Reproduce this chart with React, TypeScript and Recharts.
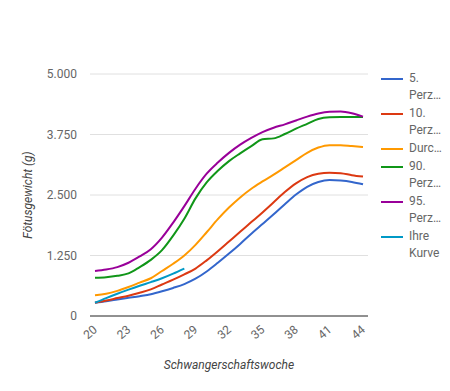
import { CartesianGrid, Label, Line, LineChart, XAxis, YAxis } from 'recharts'

const weeks = [20, 21, 22, 23, 24, 25, 26, 27, 28, 29, 30, 31, 32, 33, 34, 35, 36, 37, 38, 39, 40, 41, 42, 43, 44]
const p5 = [275, 305, 340, 375, 410, 450, 510, 580, 660, 770, 920, 1100, 1290, 1490, 1700, 1900, 2100, 2310, 2510, 2670, 2770, 2810, 2800, 2770, 2720]
const p10 = [275, 320, 370, 420, 480, 550, 650, 750, 860, 980, 1150, 1340, 1540, 1740, 1940, 2140, 2350, 2560, 2740, 2870, 2940, 2960, 2950, 2910, 2880]
const mean = [430, 460, 520, 600, 690, 780, 930, 1080, 1250, 1470, 1730, 2000, 2240, 2450, 2630, 2780, 2920, 3070, 3220, 3370, 3480, 3530, 3530, 3510, 3490]
const p90 = [790, 800, 830, 880, 1010, 1160, 1360, 1660, 2010, 2430, 2760, 3000, 3200, 3360, 3510, 3650, 3670, 3760, 3870, 3970, 4070, 4105, 4110, 4110, 4110]
const p95 = [930, 960, 1010, 1100, 1230, 1380, 1620, 1930, 2270, 2630, 2940, 3170, 3370, 3540, 3680, 3800, 3890, 3960, 4040, 4120, 4185, 4220, 4225, 4190, 4120]
const ihreKurve = [275, 370, 460, 545, 625, 700, 780, 875, 980]

const xTicks = [20, 23, 26, 29, 32, 35, 38, 41, 44]
const yTicks = [0, 1250, 2500, 3750, 5000]

const series = [
  { key: 'p5', name: '5. Perzentile', legend: ['5.', 'Perz…'], color: '#3366cc' },
  { key: 'p10', name: '10. Perzentile', legend: ['10.', 'Perz…'], color: '#dc3912' },
  { key: 'mean', name: 'Durchschnitt', legend: ['Durc…'], color: '#ff9900' },
  { key: 'p90', name: '90. Perzentile', legend: ['90.', 'Perz…'], color: '#109618' },
  { key: 'p95', name: '95. Perzentile', legend: ['95.', 'Perz…'], color: '#990099' },
  { key: 'ihre', name: 'Ihre Kurve', legend: ['Ihre', 'Kurve'], color: '#0099c6' },
]

const data = weeks.map((week, i) => ({
  week,
  p5: p5[i],
  p10: p10[i],
  mean: mean[i],
  p90: p90[i],
  p95: p95[i],
  ihre: i < ihreKurve.length ? ihreKurve[i] : null,
}))

const FONT = 'Roboto, sans-serif'

const formatDe = (v: number) => String(v).replace(/\B(?=(\d{3})+(?!\d))/g, '.')

function XTick({ x, y, payload }: any) {
  const ax = x + 3
  const ay = y + 15
  return (
    <text x={ax} y={ay} transform={`rotate(-40 ${ax} ${ay})`} textAnchor='end' fill='#666' fontSize={12} fontFamily={FONT}>
      {payload.value}
    </text>
  )
}

function Legend() {
  return (
    <div style={{ position: 'absolute', left: 381, top: 70, fontFamily: FONT, fontSize: 12, color: '#666' }}>
      {series.map((s) => (
        <div key={s.key} style={{ display: 'flex', alignItems: 'flex-start', marginBottom: 1 }}>
          <div style={{ width: 22, height: 2, background: s.color, marginTop: 8, marginRight: 6 }} />
          <div style={{ lineHeight: '17px' }}>
            {s.legend.map((line) => (
              <div key={line}>{line}</div>
            ))}
          </div>
        </div>
      ))}
    </div>
  )
}

export default function App() {
  return (
    <div style={{ position: 'absolute', left: 0, top: 0, width: 450, height: 391, background: '#fff' }}>
      <LineChart width={450} height={391} data={data} margin={{ top: 74, right: 82, bottom: 0, left: 0 }}>
        <CartesianGrid vertical={false} stroke='#e0e0e0' />
        <XAxis
          dataKey='week'
          type='number'
          domain={[20, 44]}
          ticks={xTicks}
          padding={{ left: 5, right: 5 }}
          height={75}
          axisLine={{ stroke: '#333' }}
          tickLine={false}
          tickSize={0}
          tickMargin={0}
          tick={<XTick />}
          interval={0}
        >
          <Label
            content={({ viewBox }: any) => (
              <text
                x={viewBox.x + viewBox.width / 2}
                y={viewBox.y + 53}
                textAnchor='middle'
                fill='#444'
                fontSize={12}
                fontStyle='italic'
                fontFamily={FONT}
              >
                Schwangerschaftswoche
              </text>
            )}
          />
        </XAxis>
        <YAxis
          domain={[0, 5000]}
          ticks={yTicks}
          width={90}
          axisLine={false}
          tickLine={false}
          tickSize={0}
          tickMargin={13}
          tickFormatter={formatDe}
          tick={{ fill: '#666', fontSize: 12, fontFamily: FONT }}
        >
          <Label
            content={({ viewBox }: any) => {
              const cx = 28
              const cy = viewBox.y + viewBox.height / 2
              return (
                <text
                  x={cx}
                  y={cy}
                  transform={`rotate(-90 ${cx} ${cy})`}
                  textAnchor='middle'
                  dominantBaseline='central'
                  fill='#444'
                  fontSize={12}
                  fontStyle='italic'
                  fontFamily={FONT}
                >
                  Fötusgewicht (g)
                </text>
              )
            }}
          />
        </YAxis>
        {series.map((s) => (
          <Line
            key={s.key}
            dataKey={s.key}
            name={s.name}
            type='monotone'
            stroke={s.color}
            strokeWidth={2}
            dot={false}
            activeDot={false}
            connectNulls={false}
            isAnimationActive={false}
          />
        ))}
      </LineChart>
      <Legend />
    </div>
  )
}
